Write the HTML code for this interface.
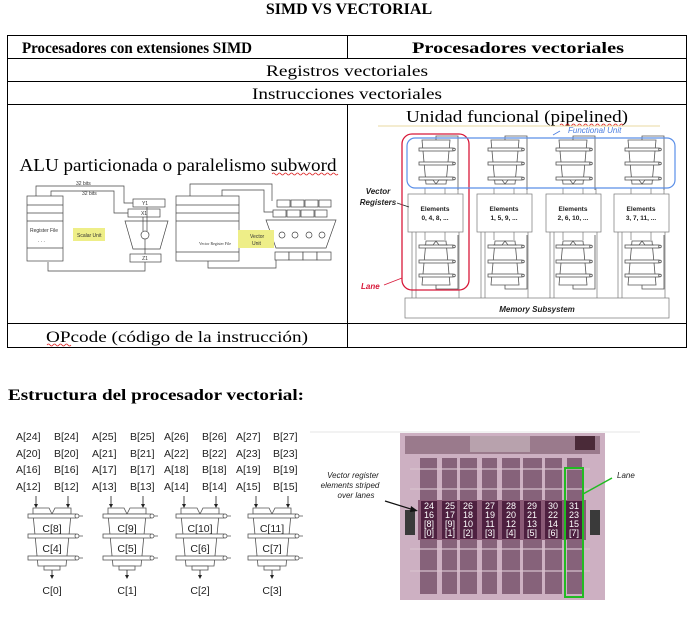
<!DOCTYPE html>
<html><head><meta charset="utf-8"><style>
html,body{margin:0;padding:0;background:#fff;width:694px;height:621px;overflow:hidden}
svg{display:block}
.s{font-family:"Liberation Serif",serif}
.a{font-family:"Liberation Sans",sans-serif}
</style></head><body>
<svg width="694" height="621" viewBox="0 0 694 621" xmlns="http://www.w3.org/2000/svg">
<defs>
<g id="pu" fill="#fff" stroke="#555" stroke-width="0.8">
 <path d="M-14 -22 L14 -22 L10 22 L-10 22 Z"/>
 <rect x="-17" y="-14" width="34" height="3"/>
 <rect x="-17" y="0" width="34" height="3"/>
 <rect x="-17" y="15" width="34" height="3"/>
 <path d="M-12 18 L-3 18 L0 22 L3 18 L12 18" fill="none"/>
 <path d="M0 -22 L0 -26 L22 -26 L22 28" fill="none"/>
 <circle cx="18" cy="-12.5" r="1.3"/><circle cx="18" cy="1.5" r="1.3"/><circle cx="18" cy="16.5" r="1.3"/>
</g>
<g id="pb" fill="#fff" stroke="#555" stroke-width="0.8">
 <path d="M-19 -12 L-3 -12 L0 -6 L3 -12 L19 -12 L19 -6 L-19 -6 Z"/>
 <path d="M-19 -6 L19 -6 L14 46 L-14 46 Z"/>
 <rect x="-24" y="-6" width="48" height="4"/>
 <rect x="-24" y="14" width="48" height="4"/>
 <rect x="-24" y="36" width="48" height="4"/>
 <rect x="-8" y="46" width="16" height="4"/>
 <circle cx="25" cy="-4" r="2"/><circle cx="25" cy="16" r="2"/><circle cx="25" cy="38" r="2"/>
 <path d="M27 -4h4M27 16h4M27 38h4" fill="none"/>
 <path d="M-16 -24 V-13 M16 -24 V-13 M0 50 V58" fill="none" stroke="#222"/>
 <path d="M-18 -16 L-16 -12 L-14 -16Z M14 -16 L16 -12 L18 -16Z M-2 55 L0 59 L2 55Z" fill="#222" stroke="none"/>
</g>
</defs>

<text x="349" y="14" text-anchor="middle" class="s" font-weight="bold" font-size="16">SIMD VS VECTORIAL</text>

<g stroke="#000" stroke-width="1" fill="none">
 <rect x="7.5" y="35.5" width="679" height="312"/>
 <line x1="7.5" y1="58.5" x2="686.5" y2="58.5"/>
 <line x1="7.5" y1="81.5" x2="686.5" y2="81.5"/>
 <line x1="7.5" y1="104.5" x2="686.5" y2="104.5"/>
 <line x1="7.5" y1="323.5" x2="686.5" y2="323.5"/>
 <line x1="347.5" y1="35.5" x2="347.5" y2="58.5"/>
 <line x1="347.5" y1="104.5" x2="347.5" y2="347.5"/>
</g>
<text x="137" y="53" text-anchor="middle" class="s" font-weight="bold" font-size="16" textLength="230" lengthAdjust="spacingAndGlyphs">Procesadores con extensiones SIMD</text>
<text x="518" y="53" text-anchor="middle" class="s" font-weight="bold" font-size="16" textLength="212" lengthAdjust="spacingAndGlyphs">Procesadores vectoriales</text>
<text x="347" y="76" text-anchor="middle" class="s" font-size="16" textLength="162" lengthAdjust="spacingAndGlyphs">Registros vectoriales</text>
<text x="347" y="99" text-anchor="middle" class="s" font-size="16" textLength="190" lengthAdjust="spacingAndGlyphs">Instrucciones vectoriales</text>
<text x="178" y="171" text-anchor="middle" class="s" font-size="18" textLength="317" lengthAdjust="spacingAndGlyphs">ALU particionada o paralelismo subword</text>
<path d="M272 174 q1.5 -2 3 0 t3 0 t3 0 t3 0 t3 0 t3 0 t3 0 t3 0 t3 0 t3 0 t3 0 t3 0 t3 0 t3 0 t3 0 t3 0 t3 0 t3 0 t3 0 t3 0 t3 0 t3 0" stroke="#d22" stroke-width="0.8" fill="none"/>
<text x="177" y="342" text-anchor="middle" class="s" font-size="16" textLength="262" lengthAdjust="spacingAndGlyphs">OPcode (código de la instrucción)</text>
<path d="M47 345 q1.5 -2 3 0 t3 0 t3 0 t3 0 t3 0 t3 0 t3 0 t3 0" stroke="#d22" stroke-width="0.8" fill="none"/>
<text x="517" y="122" text-anchor="middle" class="s" font-size="17" textLength="222" lengthAdjust="spacingAndGlyphs">Unidad funcional (pipelined)</text>
<path d="M560 125 q1.5 -2 3 0 t3 0 t3 0 t3 0 t3 0 t3 0 t3 0 t3 0 t3 0 t3 0 t3 0 t3 0 t3 0 t3 0 t3 0 t3 0 t3 0 t3 0 t3 0 t3 0 t3 0" stroke="#d22" stroke-width="0.8" fill="none"/>
<line x1="378" y1="126" x2="660" y2="126" stroke="#e8d9a0" stroke-width="1"/>

<g stroke="#444" stroke-width="0.7" fill="#fff">
 <rect x="27" y="196" width="36" height="65"/>
 <line x1="27" y1="205" x2="63" y2="205"/><line x1="27" y1="213" x2="63" y2="213"/><line x1="27" y1="221" x2="63" y2="221"/><line x1="27" y1="248" x2="63" y2="248"/>
 <rect x="133" y="199" width="32" height="8"/>
 <rect x="128" y="209" width="32" height="8"/>
 <path d="M125 221 L168 221 L160 249 L133 249 Z"/>
 <circle cx="145" cy="235" r="4"/>
 <rect x="130" y="254" width="31" height="8"/>
 <path d="M36 196 V186 H124 V203 H133 M51 196 V191 H114 V213 H128 M145 262 V271 H48 V262 M143 217 V231 M147 207 V231 M145 239 V254" fill="none"/>
 <rect x="176" y="196" width="63" height="65"/>
 <line x1="176" y1="205" x2="239" y2="205"/><line x1="176" y1="213" x2="239" y2="213"/><line x1="176" y1="221" x2="239" y2="221"/><line x1="176" y1="252" x2="239" y2="252"/>
 <path d="M190 196 V184 H272 V201 M222 196 V190 H264 V212 H273 M276 260 V268 H208 V261" fill="none"/>
 <rect x="277" y="200" width="13" height="7"/><rect x="291" y="200" width="13" height="7"/><rect x="305" y="200" width="13" height="7"/><rect x="319" y="200" width="12" height="7"/>
 <rect x="273" y="210" width="13" height="7"/><rect x="287" y="210" width="13" height="7"/><rect x="301" y="210" width="13" height="7"/><rect x="315" y="210" width="12" height="7"/>
 <path d="M266 220 L336 220 L326 248 L276 248 Z" fill="none"/>
 <circle cx="282" cy="235" r="3"/><circle cx="295" cy="235" r="3"/><circle cx="309" cy="235" r="3"/><circle cx="322" cy="235" r="3"/>
 <rect x="275" y="252" width="14" height="8"/><rect x="289" y="252" width="14" height="8"/><rect x="303" y="252" width="14" height="8"/><rect x="317" y="252" width="14" height="8"/>
</g>
<rect x="73" y="228" width="32" height="13" fill="#eeee88"/>
<rect x="238" y="230" width="36" height="18" fill="#eeee88"/>
<g class="a" font-size="5" fill="#333">
 <text x="30" y="232">Register File</text><text x="38" y="242">. . .</text>
 <text x="77" y="237">Scalar Unit</text>
 <text x="145" y="205" text-anchor="middle">Y1</text><text x="144" y="215" text-anchor="middle">X1</text><text x="145" y="260" text-anchor="middle">Z1</text>
 <text x="76" y="185">32 bits</text><text x="82" y="195">32 bits</text>
 <text x="250" y="238">Vector</text><text x="252" y="245">Unit</text>
 <text x="199" y="245" font-size="4" class="s">Vector Register File</text>
</g>

<g stroke="#777" stroke-width="0.7" fill="#fff">
 <rect x="405" y="298" width="264" height="20"/>
 <rect x="408" y="194" width="55" height="38"/>
 <rect x="477" y="194" width="55" height="38"/>
 <rect x="546" y="194" width="55" height="38"/>
 <rect x="614" y="194" width="55" height="38"/>
</g>
<g stroke="#777" stroke-width="0.7" fill="none">
 <path d="M412 232 V298 M416 232 V298 M481 232 V298 M485 232 V298 M550 232 V298 M554 232 V298 M618 232 V298 M622 232 V298"/>
 <path d="M458 188 V194 M527 188 V194 M596 188 V194 M664 188 V194 M425 188 V194 M445 188 V194 M494 188 V194 M514 188 V194 M563 188 V194 M583 188 V194 M631 188 V194 M651 188 V194"/>
 <path d="M425 232 V240 M445 232 V240 M494 232 V240 M514 232 V240 M563 232 V240 M583 232 V240 M631 232 V240 M651 232 V240"/>
 <path d="M459 232 V298 M528 232 V298 M597 232 V298 M665 232 V298"/>
</g>
<use href="#pu" x="436" y="162"/><use href="#pu" x="505" y="162"/><use href="#pu" x="573" y="162"/><use href="#pu" x="642" y="162"/>
<use href="#pu" transform="translate(436 263) scale(1 -1)"/><use href="#pu" transform="translate(505 263) scale(1 -1)"/><use href="#pu" transform="translate(573 263) scale(1 -1)"/><use href="#pu" transform="translate(642 263) scale(1 -1)"/>
<g class="a" font-size="6.5" font-weight="bold" fill="#222" text-anchor="middle">
 <text x="435" y="211">Elements</text><text x="435" y="220">0, 4, 8, ...</text>
 <text x="504" y="211">Elements</text><text x="504" y="220">1, 5, 9, ...</text>
 <text x="573" y="211">Elements</text><text x="573" y="220">2, 6, 10, ...</text>
 <text x="641" y="211">Elements</text><text x="641" y="220">3, 7, 11, ...</text>
 <text x="537" y="312" font-size="8" font-style="italic">Memory Subsystem</text>
 <text x="378" y="194" font-size="8" font-style="italic">Vector</text>
 <text x="378" y="205" font-size="8" font-style="italic">Registers</text>
</g>
<line x1="397" y1="203" x2="409" y2="207" stroke="#222" stroke-width="0.8"/>
<rect x="402" y="134" width="67" height="156" rx="10" fill="none" stroke="#d8193a" stroke-width="1.3"/>
<rect x="407" y="138" width="268" height="50" rx="8" fill="none" stroke="#5b8fe8" stroke-width="1.2"/>
<text x="568" y="133" class="a" font-size="8" font-style="italic" fill="#4a7de0">Functional Unit</text>
<line x1="553" y1="135" x2="560" y2="131" stroke="#4a7de0" stroke-width="0.8"/>
<text x="361" y="289" class="a" font-size="8" font-style="italic" font-weight="bold" fill="#d8193a">Lane</text>
<line x1="384" y1="285" x2="402" y2="278" stroke="#d8193a" stroke-width="0.8"/>

<text x="8" y="400" class="s" font-weight="bold" font-size="16" textLength="296" lengthAdjust="spacingAndGlyphs">Estructura del procesador vectorial:</text>
<g class="a" font-size="10.5" fill="#222">
 <text x="16" y="440">A[24]</text><text x="54" y="440">B[24]</text><text x="92" y="440">A[25]</text><text x="130" y="440">B[25]</text><text x="164" y="440">A[26]</text><text x="202" y="440">B[26]</text><text x="236" y="440">A[27]</text><text x="273" y="440">B[27]</text>
 <text x="16" y="457">A[20]</text><text x="54" y="457">B[20]</text><text x="92" y="457">A[21]</text><text x="130" y="457">B[21]</text><text x="164" y="457">A[22]</text><text x="202" y="457">B[22]</text><text x="236" y="457">A[23]</text><text x="273" y="457">B[23]</text>
 <text x="16" y="473">A[16]</text><text x="54" y="473">B[16]</text><text x="92" y="473">A[17]</text><text x="130" y="473">B[17]</text><text x="164" y="473">A[18]</text><text x="202" y="473">B[18]</text><text x="236" y="473">A[19]</text><text x="273" y="473">B[19]</text>
 <text x="16" y="490">A[12]</text><text x="54" y="490">B[12]</text><text x="92" y="490">A[13]</text><text x="130" y="490">B[13]</text><text x="164" y="490">A[14]</text><text x="202" y="490">B[14]</text><text x="236" y="490">A[15]</text><text x="273" y="490">B[15]</text>
</g>
<use href="#pb" x="52" y="520"/><use href="#pb" x="127" y="520"/><use href="#pb" x="200" y="520"/><use href="#pb" x="272" y="520"/>
<g class="a" font-size="10.5" fill="#222" text-anchor="middle">
 <text x="52" y="532">C[8]</text><text x="127" y="532">C[9]</text><text x="200" y="532">C[10]</text><text x="272" y="532">C[11]</text>
 <text x="52" y="552">C[4]</text><text x="127" y="552">C[5]</text><text x="200" y="552">C[6]</text><text x="272" y="552">C[7]</text>
 <text x="52" y="594">C[0]</text><text x="127" y="594">C[1]</text><text x="200" y="594">C[2]</text><text x="272" y="594">C[3]</text>
</g>

<line x1="310" y1="432" x2="640" y2="432" stroke="#e6e6e6"/>
<rect x="400" y="433" width="205" height="167" fill="#cdb0c2"/>
<rect x="405" y="436" width="195" height="18" fill="#9a7a8c"/>
<rect x="470" y="436" width="60" height="16" fill="#b8a2ad"/>
<rect x="575" y="436" width="20" height="14" fill="#4a2a38"/>
<g fill="#86627a">
 <rect x="420" y="458" width="17" height="136"/><rect x="442" y="458" width="15" height="136"/><rect x="460" y="458" width="17" height="136"/><rect x="482" y="458" width="15" height="136"/>
 <rect x="502" y="458" width="18" height="136"/><rect x="523" y="458" width="19" height="136"/><rect x="545" y="458" width="17" height="136"/><rect x="567" y="458" width="15" height="136"/>
</g>
<g fill="#d9c3cf" opacity="0.6">
 <rect x="410" y="468" width="180" height="2"/><rect x="410" y="488" width="180" height="2"/><rect x="410" y="548" width="180" height="2"/><rect x="410" y="570" width="180" height="2"/>
</g>
<rect x="418" y="500" width="168" height="40" fill="#8a5a76"/>
<g fill="#4e2040">
 <rect x="421" y="501" width="16" height="38"/><rect x="442" y="501" width="15" height="38"/><rect x="460" y="501" width="17" height="38"/><rect x="482" y="501" width="16" height="38"/>
 <rect x="502" y="501" width="18" height="38"/><rect x="524" y="501" width="17" height="38"/><rect x="545" y="501" width="17" height="38"/><rect x="566" y="501" width="17" height="38"/>
</g>
<rect x="405" y="510" width="10" height="25" fill="#3a3a3a"/><rect x="590" y="510" width="10" height="25" fill="#3a3a3a"/>
<g class="a" font-size="9" fill="#fff" text-anchor="middle">
 <text x="429" y="509">24</text><text x="450" y="509">25</text><text x="468" y="509">26</text><text x="490" y="509">27</text><text x="511" y="509">28</text><text x="532" y="509">29</text><text x="553" y="509">30</text><text x="574" y="509">31</text>
 <text x="429" y="518">16</text><text x="450" y="518">17</text><text x="468" y="518">18</text><text x="490" y="518">19</text><text x="511" y="518">20</text><text x="532" y="518">21</text><text x="553" y="518">22</text><text x="574" y="518">23</text>
 <text x="429" y="527">[8]</text><text x="450" y="527">[9]</text><text x="468" y="527">10</text><text x="490" y="527">11</text><text x="511" y="527">12</text><text x="532" y="527">13</text><text x="553" y="527">14</text><text x="574" y="527">15</text>
 <text x="429" y="536">[0]</text><text x="450" y="536">[1]</text><text x="468" y="536">[2]</text><text x="490" y="536">[3]</text><text x="511" y="536">[4]</text><text x="532" y="536">[5]</text><text x="553" y="536">[6]</text><text x="574" y="536">[7]</text>
</g>
<rect x="565" y="468" width="18" height="129" fill="none" stroke="#22bb22" stroke-width="2"/>
<line x1="583" y1="494" x2="612" y2="478" stroke="#22bb22" stroke-width="1.5"/>
<text x="617" y="478" class="a" font-size="8" font-style="italic" fill="#222">Lane</text>
<g class="a" font-size="8" font-style="italic" fill="#222" text-anchor="middle">
 <text x="353" y="478">Vector register</text><text x="350" y="488">elements striped</text><text x="356" y="498">over lanes</text>
</g>
<line x1="385" y1="501" x2="414" y2="510" stroke="#111" stroke-width="1.2"/>
<path d="M418 511 L411 506 L410 512Z" fill="#111"/>
</svg>
</body></html>
